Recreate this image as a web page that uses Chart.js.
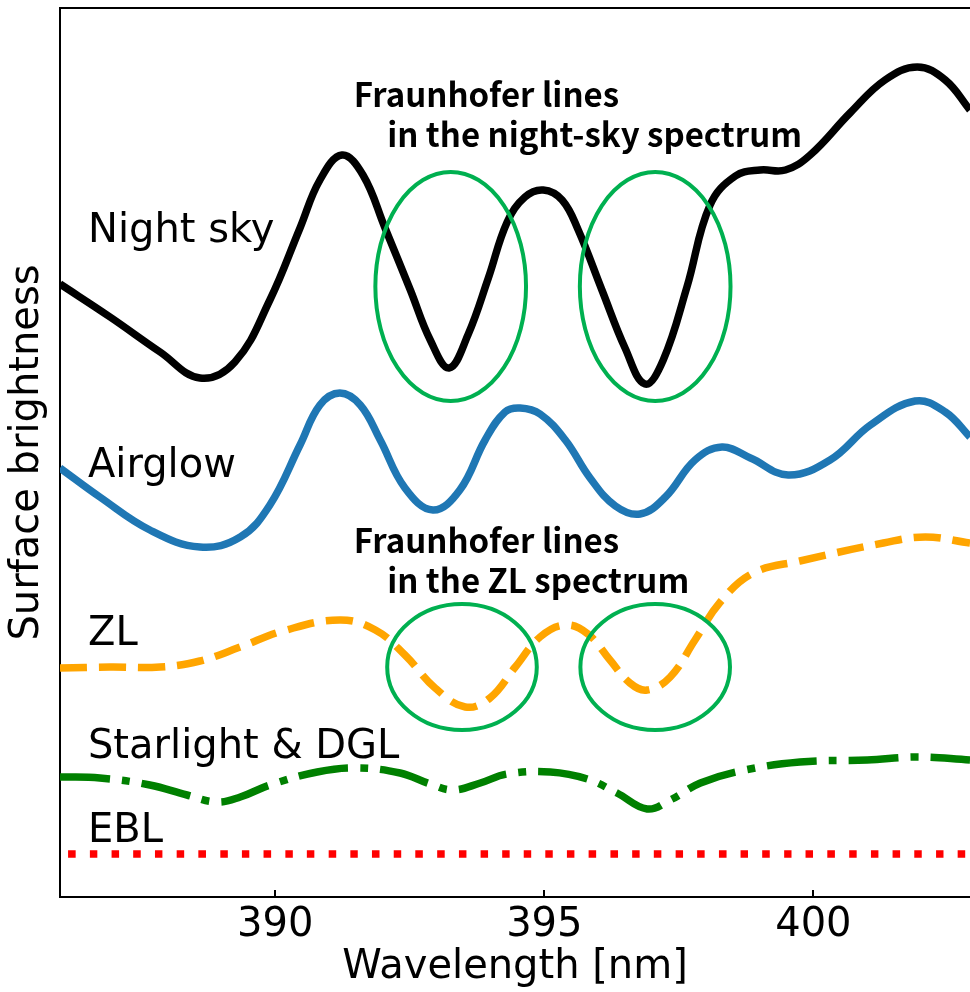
<!DOCTYPE html>
<html>
<head>
<meta charset="utf-8">
<script src="https://cdn.jsdelivr.net/npm/chart.js@4"></script>
<style>
  html, body { margin: 0; padding: 0; background: #fff; }
  #wrap { width: 970px; height: 992px; }
</style>
</head>
<body>
<div id="wrap"><canvas id="spectrum" width="970" height="992"></canvas></div>
<script>
// Sky brightness components vs wavelength [nm], brightness in arbitrary units
const nightSkyWl = [386.00, 386.93, 387.86, 388.60, 389.25, 389.90, 390.46, 390.83, 391.24, 391.63,
                    392.04, 392.51, 392.88, 393.23, 393.58, 393.96, 394.31, 394.64, 394.98, 395.33,
                    395.63, 396.07, 396.50, 396.87, 397.21, 397.65, 398.08, 398.55, 399.01, 399.48,
                    399.94, 400.68, 401.33, 401.93, 402.45, 402.91];
const nightSky = [61.3, 58.0, 54.5, 51.9, 53.5, 59.7, 66.9, 71.7, 74.2, 72.2,
                  66.9, 60.7, 55.7, 52.9, 56.2, 61.9, 67.5, 70.0, 70.7, 69.7,
                  66.7, 60.7, 54.9, 51.3, 53.7, 61.0, 69.2, 72.1, 72.7, 72.7,
                  74.2, 78.4, 81.7, 83.0, 81.7, 78.7];

const airglowWl = [386.00, 386.74, 387.67, 388.60, 389.35, 389.90, 390.46, 390.83, 391.20, 391.58,
                   391.95, 392.41, 392.93, 393.43, 393.90, 394.27, 394.55, 394.92, 395.39, 395.85,
                   396.32, 396.78, 397.25, 397.80, 398.30, 398.83, 399.53, 400.31, 401.06, 401.89,
                   402.45, 402.91];
const airglow = [42.9, 40.0, 36.7, 35.0, 36.0, 39.2, 45.2, 49.2, 50.4, 49.2,
                 45.7, 40.9, 38.7, 40.7, 45.7, 48.5, 48.9, 48.3, 45.7, 41.9,
                 39.1, 38.3, 40.0, 43.7, 45.0, 43.9, 42.2, 43.7, 47.2, 49.6,
                 48.5, 46.0];

const zlWl = [386.00, 386.93, 387.86, 388.60, 389.35, 390.14, 391.20, 391.86, 392.41, 392.97,
              393.53, 393.99, 394.46, 394.92, 395.39, 395.81, 396.22, 396.59, 396.91, 397.34,
              397.80, 398.27, 398.88, 399.75, 401.30, 402.08, 402.91];
const zl = [22.9, 23.0, 23.0, 23.6, 25.0, 26.6, 27.7, 26.7, 24.2, 20.9,
            19.0, 19.9, 23.0, 26.0, 27.2, 26.3, 23.7, 21.4, 20.7, 22.0,
            25.7, 29.5, 32.4, 33.6, 35.4, 36.0, 35.4];

const starlightWl = [386.00, 386.74, 387.67, 388.36, 388.92, 389.35, 389.90, 390.78, 391.52, 392.32,
                     392.88, 393.30, 393.81, 394.31, 395.11, 395.80, 396.35, 396.91, 397.34, 397.90,
                     398.64, 399.75, 401.00, 401.93, 402.91];
const starlight = [12.0, 11.9, 11.2, 10.2, 9.5, 10.0, 11.2, 12.5, 12.9, 12.4,
                   11.3, 10.7, 11.4, 12.3, 12.5, 11.8, 10.4, 8.8, 9.7, 11.4,
                   12.6, 13.5, 13.7, 14.0, 13.7];

const eblWl = [386.15, 402.91];
const ebl = [4.3, 4.3];

const xTicks = [390, 395, 400];

// Ellipses marking the Fraunhofer dips: centre (nm, brightness) and half-axes
const dipWl = [393.26, 397.06, 393.47, 397.06];
const dipLevel = [61.05, 61.05, 23.0, 23.0];
const dipHalfWl = [1.40, 1.40, 1.39, 1.39];
const dipHalfLevel = [11.45, 11.45, 6.3, 6.3];

// Component names written inside the plot
const componentNames = ['Night sky', 'Airglow', 'ZL', 'Starlight & DGL', 'EBL'];
const componentNameLevel = [65.5, 42.0, 25.2, 13.9, 5.5];
const componentNameWl = 386.52;

// Two-line notes above the dips
const noteText = [['Fraunhofer lines', 'in the night-sky spectrum'], ['Fraunhofer lines', 'in the ZL spectrum']];
const noteWl = [391.46, 392.08];
const noteLevel = [[79.0, 75.0], [34.4, 30.4]];

const pts = (wl, vals) => wl.map((w, i) => ({ x: w, y: vals[i] }));

const line = (label, wl, vals, color, dash) => ({
    label,
    data: pts(wl, vals),
    borderColor: color,
    borderWidth: 7.5,
    borderDash: dash,
    borderCapStyle: 'butt',
    borderJoinStyle: 'round',
    pointRadius: 0,
    tension: 0.4,
    fill: false
});

const annotations = {
    id: 'annotations',
    afterDatasetsDraw(chart) {
        const { ctx, chartArea, scales: { x, y } } = chart;
        ctx.save();

        // top spine and inward ticks
        ctx.strokeStyle = '#000';
        ctx.lineWidth = 2;
        ctx.beginPath();
        ctx.moveTo(chartArea.left - 1, chartArea.top);
        ctx.lineTo(chartArea.right, chartArea.top);
        xTicks.forEach(t => {
            const px = Math.round(x.getPixelForValue(t));
            ctx.moveTo(px, chartArea.bottom);
            ctx.lineTo(px, chartArea.bottom - 7);
        });
        ctx.stroke();

        // ellipses
        ctx.strokeStyle = '#00b050';
        ctx.lineWidth = 4;
        dipWl.forEach((w, i) => {
            const cx = x.getPixelForValue(w);
            const cy = y.getPixelForValue(dipLevel[i]);
            const rx = x.getPixelForValue(w + dipHalfWl[i]) - cx;
            const ry = cy - y.getPixelForValue(dipLevel[i] + dipHalfLevel[i]);
            ctx.beginPath();
            ctx.ellipse(cx, cy, rx, ry, 0, 0, Math.PI * 2);
            ctx.stroke();
        });

        // component names
        ctx.fillStyle = '#000';
        ctx.textAlign = 'left';
        ctx.textBaseline = 'alphabetic';
        ctx.font = '40px "DejaVu Sans"';
        componentNames.forEach((name, i) => {
            ctx.fillText(name, x.getPixelForValue(componentNameWl), y.getPixelForValue(componentNameLevel[i]));
        });

        // notes
        ctx.font = 'bold 33px "Noto Sans CJK JP"';
        noteText.forEach((lines, i) => {
            lines.forEach((txt, j) => {
                ctx.fillText(txt, x.getPixelForValue(noteWl[j]), y.getPixelForValue(noteLevel[i][j]));
            });
        });

        ctx.restore();
    }
};

new Chart(document.getElementById('spectrum'), {
    type: 'line',
    data: {
        datasets: [
            line('Night sky', nightSkyWl, nightSky, '#000000', []),
            line('Airglow', airglowWl, airglow, '#1f77b4', []),
            line('ZL', zlWl, zl, '#ffa500', [27, 12]),
            line('Starlight & DGL', starlightWl, starlight, '#008000', [50, 12, 8, 12]),
            line('EBL', eblWl, ebl, '#ff0000', [7.5, 14.2])
        ]
    },
    options: {
        responsive: false,
        devicePixelRatio: 1,
        animation: false,
        layout: { padding: { top: 8, left: 0, right: 0, bottom: 0 } },
        scales: {
            x: {
                type: 'linear',
                min: 386.0,
                max: 402.91,
                afterFit: s => { s.height = 95; },
                afterBuildTicks: s => { s.ticks = xTicks.map(v => ({ value: v })); },
                grid: { display: false, drawTicks: false },
                border: { display: true, color: '#000', width: 2 },
                ticks: {
                    padding: 5,
                    color: '#000',
                    font: { family: 'DejaVu Sans', size: 40 },
                    maxRotation: 0,
                    callback: v => String(v)
                },
                title: {
                    display: true,
                    text: 'Wavelength [nm]',
                    color: '#000',
                    font: { family: 'DejaVu Sans', size: 40 },
                    padding: { top: 0, bottom: 0 }
                }
            },
            y: {
                min: 0,
                max: 88.9,
                afterFit: s => { s.width = 60; },
                grid: { display: false, drawTicks: false },
                border: { display: true, color: '#000', width: 2 },
                ticks: { display: false },
                title: {
                    display: true,
                    text: 'Surface brightness',
                    color: '#000',
                    font: { family: 'DejaVu Sans', size: 40 },
                    padding: { top: 4, bottom: 0 }
                }
            }
        },
        plugins: {
            legend: { display: false },
            tooltip: { enabled: false }
        }
    },
    plugins: [annotations]
});
</script>
</body>
</html>
